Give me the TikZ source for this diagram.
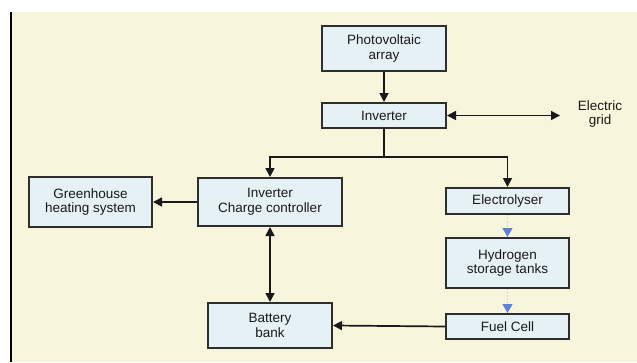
\documentclass[tikz,border=0pt]{standalone}
\usepackage{fontspec}
\setmainfont{Liberation Sans}
\usetikzlibrary{arrows.meta}
\definecolor{bg}{HTML}{F7F5DC}
\definecolor{boxfill}{HTML}{E5F1F5}
\definecolor{boxline}{HTML}{2E2E2E}
\definecolor{harrow}{HTML}{5F82D2}
\definecolor{hline}{HTML}{C5CCD8}
\begin{document}
\begin{tikzpicture}[x=1pt,y=-1pt,
  box/.style={draw=boxline, line width=2pt, fill=boxfill, inner sep=0pt, align=center,
    font=\fontsize{13.5}{14.5}\selectfont, text=black!90},
  lbl/.style={inner sep=0pt, align=center, font=\fontsize{13.5}{14.5}\selectfont, text=black!90},
  conn/.style={line width=1.7pt, draw=black!90, -{Triangle[length=9pt,width=9pt]}},
  biconn/.style={line width=1.7pt, draw=black!90, {Triangle[length=9pt,width=9pt]}-{Triangle[length=9pt,width=9pt]}},
  plain/.style={line width=1.7pt, draw=black!90},
  hconn/.style={line width=1.2pt, draw=hline, dotted, -{Triangle[length=9pt,width=10pt,fill=harrow,color=harrow]}}]
  \useasboundingbox (0,0) rectangle (637,362);
  \fill[white] (0,0) rectangle (637,362);
  \fill[bg] (11,12) rectangle (637,362);
  \draw[line width=2pt, black] (11,12) -- (11,362);

  \node[box, minimum width=124pt, minimum height=45pt] (pv) at (384,48.5) {Photovoltaic\\array};
  \node[box, minimum width=124pt, minimum height=25pt] (inv) at (384,115.5) {Inverter};
  \node[lbl] (grid) at (600,114) {Electric\\grid};
  \node[box, minimum width=123pt, minimum height=50pt] (gh) at (90.5,202) {Greenhouse\\heating system};
  \node[box, minimum width=144pt, minimum height=48pt] (icc) at (270,202) {Inverter\\Charge controller};
  \node[box, minimum width=123pt, minimum height=26pt] (el) at (507.5,201) {Electrolyser};
  \node[box, minimum width=123pt, minimum height=50pt] (hy) at (507.5,263) {Hydrogen\\storage tanks};
  \node[box, minimum width=123pt, minimum height=25pt] (fc) at (507.5,326.5) {Fuel Cell};
  \node[box, minimum width=124pt, minimum height=45pt] (bat) at (270,325.5) {Battery\\bank};

  \coordinate (gridend) at (560,115.5);
  \coordinate (br) at (384,157);

  \draw[conn] (pv.south) -- (inv.north);
  \draw[biconn] (inv.east) -- (gridend);
  \draw[plain] (inv.south) -- (br);
  \draw[conn] (br) -| (icc.north);
  \draw[conn] (br) -| (el.north);
  \draw[conn] (icc.west) -- (gh.east);
  \draw[biconn] (icc.south) -- (bat.north);
  \draw[conn] (fc.west) -- (bat.east);
  \draw[hconn] (el.south) -- (hy.north);
  \draw[hconn] (hy.south) -- (fc.north);
\end{tikzpicture}
\end{document}
